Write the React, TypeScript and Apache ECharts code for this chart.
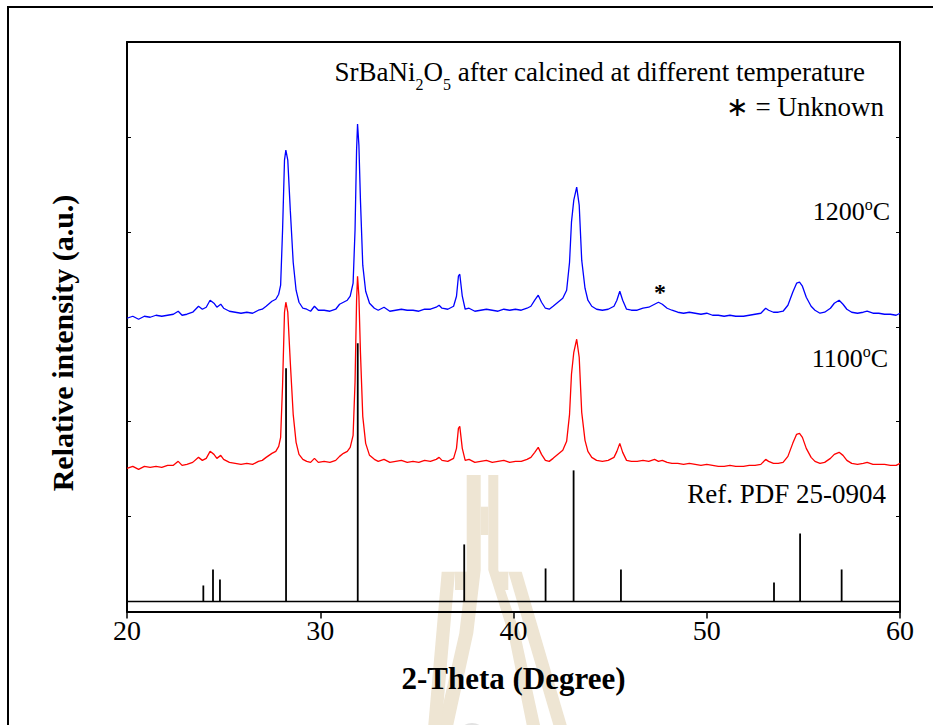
import React, { useEffect, useRef } from 'react';
import * as echarts from 'echarts';

const angles = [
  20.0, 20.3, 20.6, 20.9, 21.2, 21.5, 21.8, 22.1, 22.4, 22.65, 22.85, 23.1, 23.4, 23.7, 23.9, 24.1, 24.3, 24.5, 24.65, 24.85,
  25.0, 25.3, 25.6, 25.9, 26.2, 26.5, 26.8, 27.0, 27.2, 27.5, 27.7, 27.85, 27.95, 28.05, 28.15, 28.22, 28.32, 28.45, 28.6, 28.75,
  28.9, 29.1, 29.3, 29.5, 29.7, 29.9, 30.2, 30.5, 30.8, 31.0, 31.2, 31.4, 31.55, 31.7, 31.8, 31.88, 31.93, 32.0, 32.08, 32.2,
  32.35, 32.55, 32.8, 33.0, 33.3, 33.6, 33.9, 34.2, 34.5, 34.8, 35.1, 35.4, 35.7, 36.0, 36.15, 36.3, 36.6, 36.9, 37.05, 37.15,
  37.22, 37.35, 37.5, 37.7, 38.0, 38.3, 38.6, 38.9, 39.2, 39.5, 39.8, 40.1, 40.4, 40.7, 40.9, 41.1, 41.28, 41.45, 41.65, 41.85,
  42.05, 42.3, 42.55, 42.75, 42.9, 43.0, 43.12, 43.27, 43.4, 43.53, 43.7, 43.85, 44.05, 44.3, 44.6, 44.9, 45.2, 45.35, 45.5, 45.65,
  45.85, 46.1, 46.4, 46.7, 47.0, 47.3, 47.5, 47.7, 47.95, 48.2, 48.5, 48.8, 49.1, 49.4, 49.7, 50.0, 50.3, 50.6, 50.9, 51.2,
  51.5, 51.9, 52.2, 52.5, 52.8, 53.05, 53.2, 53.45, 53.7, 53.95, 54.2, 54.45, 54.65, 54.8, 54.95, 55.15, 55.4, 55.6, 55.86, 56.1,
  56.4, 56.6, 56.85, 57.05, 57.25, 57.5, 57.8, 58.1, 58.3, 58.6, 58.9, 59.2, 59.5, 59.8, 60.0,
];

const intensity1200 = [
  293, 295, 292, 295, 294, 296, 295, 296, 297, 300, 296, 297, 299, 305, 302, 304, 311, 308, 304, 307,
  303, 300, 299, 298, 299, 298, 301, 302, 305, 310, 312, 317, 326, 381, 451, 461, 451, 401, 349, 321,
  309, 303, 302, 300, 305, 301, 301, 300, 302, 307, 309, 311, 315, 328, 381, 461, 487, 466, 411, 346,
  320, 308, 303, 301, 304, 300, 301, 302, 301, 301, 300, 302, 302, 304, 306, 303, 302, 305, 315, 335,
  337, 315, 302, 303, 300, 301, 302, 301, 300, 302, 301, 302, 301, 303, 305, 311, 316, 309, 303, 302,
  305, 309, 313, 321, 349, 389, 411, 424, 406, 351, 323, 311, 305, 302, 301, 302, 305, 311, 320, 311,
  302, 301, 301, 303, 304, 307, 309, 307, 303, 301, 299, 298, 299, 298, 297, 298, 296, 296, 295, 296,
  295, 295, 296, 297, 298, 303, 301, 299, 299, 300, 306, 319, 328, 329, 325, 314, 305, 301, 298, 299,
  303, 308, 311, 307, 302, 299, 298, 299, 300, 298, 298, 297, 297, 296, 298,
];

const intensity1100 = [
  143, 145, 142, 145, 144, 145, 144, 146, 146, 150, 146, 147, 149, 154, 151, 153, 160, 157, 153, 156,
  152, 149, 148, 147, 148, 147, 150, 151, 154, 158, 160, 165, 174, 226, 299, 309, 299, 249, 197, 169,
  157, 152, 150, 149, 153, 149, 150, 149, 151, 155, 158, 160, 164, 176, 229, 311, 335, 315, 259, 195,
  168, 156, 152, 150, 152, 149, 150, 151, 149, 150, 149, 151, 150, 152, 154, 151, 150, 153, 163, 183,
  185, 163, 151, 152, 149, 150, 151, 149, 150, 151, 149, 150, 150, 152, 154, 159, 164, 157, 151, 150,
  153, 157, 161, 170, 197, 237, 259, 272, 254, 199, 171, 160, 154, 151, 150, 151, 154, 160, 168, 159,
  151, 150, 150, 151, 150, 152, 150, 151, 149, 148, 148, 147, 148, 147, 146, 147, 146, 145, 145, 146,
  145, 145, 146, 146, 147, 152, 150, 148, 148, 149, 155, 168, 177, 178, 174, 163, 154, 150, 148, 149,
  153, 157, 159, 156, 151, 148, 147, 148, 149, 147, 147, 147, 146, 146, 148,
];

const refAngles = [23.95, 24.45, 24.81, 28.23, 31.94, 37.45, 41.66, 43.11, 45.56, 53.48, 54.83, 56.98];
const refHeights = [26, 42, 32, 243, 268, 67, 43, 141, 42, 29, 78, 42];
const refBase = 10;

const xTicks = [20, 30, 40, 50, 60];

const FONT = "'Liberation Serif', 'Times New Roman', Times, serif";

export default function App() {
  const ref = useRef<HTMLDivElement>(null);

  useEffect(() => {
    document.body.style.margin = '0';
    if (!ref.current) return;
    const chart = echarts.init(ref.current, undefined, { renderer: 'svg' });

    const wm = '#eee5d3';
    const option: any = {
      animation: false,
      backgroundColor: '#ffffff',
      grid: { left: 127, top: 42, right: 33, bottom: 113.5, containLabel: false },
      xAxis: [
        {
          type: 'value',
          position: 'bottom',
          min: xTicks[0],
          max: xTicks[xTicks.length - 1],
          interval: 10,
          splitLine: { show: false },
          axisLine: { show: true, onZero: false, lineStyle: { color: '#000', width: 2 } },
          axisTick: { show: true, inside: false, length: 7, lineStyle: { color: '#000', width: 1.5 } },
          axisLabel: { fontFamily: FONT, fontSize: 28, color: '#000', margin: 5 },
          name: '2-Theta (Degree)',
          nameLocation: 'middle',
          nameGap: 51,
          nameTextStyle: { fontFamily: FONT, fontSize: 31, fontWeight: 'bold', color: '#000' },
        },
        {
          type: 'value',
          position: 'top',
          min: 20,
          max: 60,
          interval: 10,
          splitLine: { show: false },
          axisLine: { show: true, onZero: false, lineStyle: { color: '#000', width: 2 } },
          axisTick: { show: false },
          axisLabel: { show: false },
        },
      ],
      yAxis: [
        {
          type: 'value',
          position: 'left',
          min: 0,
          max: 569,
          interval: 569 / 6,
          splitLine: { show: false },
          axisLine: { show: true, onZero: false, lineStyle: { color: '#000', width: 2 } },
          axisTick: { show: true, inside: true, length: 4, lineStyle: { color: '#000', width: 1 } },
          axisLabel: { show: false },
        },
        {
          type: 'value',
          position: 'right',
          min: 0,
          max: 569,
          interval: 569 / 6,
          splitLine: { show: false },
          axisLine: { show: true, onZero: false, lineStyle: { color: '#000', width: 2 } },
          axisTick: { show: true, inside: true, length: 4, lineStyle: { color: '#000', width: 1 } },
          axisLabel: { show: false },
        },
      ],
      series: [
        {
          name: '1200',
          type: 'line',
          xAxisIndex: 0,
          yAxisIndex: 0,
          data: angles.map((a, i) => [a, intensity1200[i]]),
          showSymbol: false,
          lineStyle: { color: '#0000ff', width: 1.3 },
          itemStyle: { color: '#0000ff' },
          z: 3,
        },
        {
          name: '1100',
          type: 'line',
          xAxisIndex: 0,
          yAxisIndex: 0,
          data: angles.map((a, i) => [a, intensity1100[i]]),
          showSymbol: false,
          lineStyle: { color: '#ff0000', width: 1.3 },
          itemStyle: { color: '#ff0000' },
          z: 3,
        },
        {
          name: 'base',
          type: 'line',
          data: [[20, refBase], [60, refBase]],
          showSymbol: false,
          lineStyle: { color: '#000', width: 1.6 },
          z: 3,
        },
        {
          name: 'ref',
          type: 'custom',
          data: refAngles.map((a, i) => [a, refHeights[i]]),
          renderItem: (params: any, api: any) => {
            const x = api.value(0);
            const h = api.value(1);
            const p0 = api.coord([x, refBase]);
            const p1 = api.coord([x, h]);
            return {
              type: 'line',
              shape: { x1: p0[0], y1: p0[1], x2: p1[0], y2: p1[1] },
              style: { stroke: '#000', lineWidth: 1.8 },
            };
          },
          z: 4,
        },
      ],
      graphic: [
        // watermark
        { type: 'polygon', z: -10, shape: { points: [[466.7, 475], [480.7, 475], [480.7, 570], [473.3, 633.3], [453.3, 725], [438.3, 725], [459.3, 633.3], [466.7, 570]] }, style: { fill: wm } },
        { type: 'polygon', z: -10, shape: { points: [[488.3, 475], [498.3, 475], [498.3, 570], [520, 633.3], [540, 725], [526.7, 725], [508.3, 633.3], [488.3, 570]] }, style: { fill: wm } },
        { type: 'rect', z: -10, shape: { x: 480.7, y: 506.7, width: 7.6, height: 28.3 }, style: { fill: wm } },
        { type: 'polygon', z: -10, shape: { points: [[441.7, 571.7], [455, 571.7], [441.7, 725], [428.3, 725]] }, style: { fill: wm } },
        { type: 'polygon', z: -10, shape: { points: [[508.3, 571.7], [521.7, 571.7], [566.7, 725], [553.3, 725]] }, style: { fill: wm } },
        { type: 'rect', z: -10, shape: { x: 455, y: 571.7, width: 11.7, height: 18.3 }, style: { fill: wm } },
        { type: 'rect', z: -10, shape: { x: 498.3, y: 571.7, width: 10, height: 18.3 }, style: { fill: wm } },
        { type: 'circle', z: -10, shape: { cx: 472, cy: 738, r: 15 }, style: { fill: '#e2e2e2' } },
        // outer frame
        { type: 'rect', z: 10, shape: { x: 8, y: 7, width: 960, height: 760 }, style: { fill: 'none', stroke: '#000', lineWidth: 2 } },
        // y axis title
        {
          type: 'text',
          z: 10,
          x: 62,
          y: 343,
          rotation: Math.PI / 2,
          style: { text: 'Relative intensity (a.u.)', align: 'center', verticalAlign: 'middle', fill: '#000', font: `bold 30px ${FONT}` },
        },
        // title
        {
          type: 'text',
          z: 10,
          x: 865,
          y: 72,
          style: {
            text: '{a|SrBaNi}{s|2}{a|O}{s|5}{a| after calcined at different temperature}',
            align: 'right',
            verticalAlign: 'middle',
            fill: '#000',
            rich: {
              a: { fontFamily: FONT, fontSize: 27, lineHeight: 40, fill: '#000' },
              s: { fontFamily: FONT, fontSize: 16, lineHeight: 6, verticalAlign: 'bottom', fill: '#000' },
            },
          },
        },
        {
          type: 'text',
          z: 10,
          x: 884,
          y: 107,
          style: { text: '\u2217 = Unknown', align: 'right', verticalAlign: 'middle', fill: '#000', font: `27px ${FONT}` },
        },
        {
          type: 'text',
          z: 10,
          x: 890,
          y: 211,
          style: {
            text: '{a|1200}{o|o}{a|C}',
            align: 'right',
            verticalAlign: 'middle',
            fill: '#000',
            rich: {
              a: { fontFamily: FONT, fontSize: 26, lineHeight: 30, fill: '#000' },
              o: { fontFamily: FONT, fontSize: 16, lineHeight: 16, verticalAlign: 'top', fill: '#000' },
            },
          },
        },
        {
          type: 'text',
          z: 10,
          x: 888,
          y: 358,
          style: {
            text: '{a|1100}{o|o}{a|C}',
            align: 'right',
            verticalAlign: 'middle',
            fill: '#000',
            rich: {
              a: { fontFamily: FONT, fontSize: 26, lineHeight: 30, fill: '#000' },
              o: { fontFamily: FONT, fontSize: 16, lineHeight: 16, verticalAlign: 'top', fill: '#000' },
            },
          },
        },
        {
          type: 'text',
          z: 10,
          x: 886,
          y: 494,
          style: { text: 'Ref. PDF 25-0904', align: 'right', verticalAlign: 'middle', fill: '#000', font: `27px ${FONT}` },
        },
        {
          type: 'text',
          z: 10,
          x: 660,
          y: 292,
          style: { text: '*', align: 'center', verticalAlign: 'middle', fill: '#000', font: `bold 24px ${FONT}` },
        },
      ],
    };

    chart.setOption(option);
    return () => {
      chart.dispose();
    };
  }, []);

  return <div ref={ref} style={{ width: 933, height: 725 }} />;
}
